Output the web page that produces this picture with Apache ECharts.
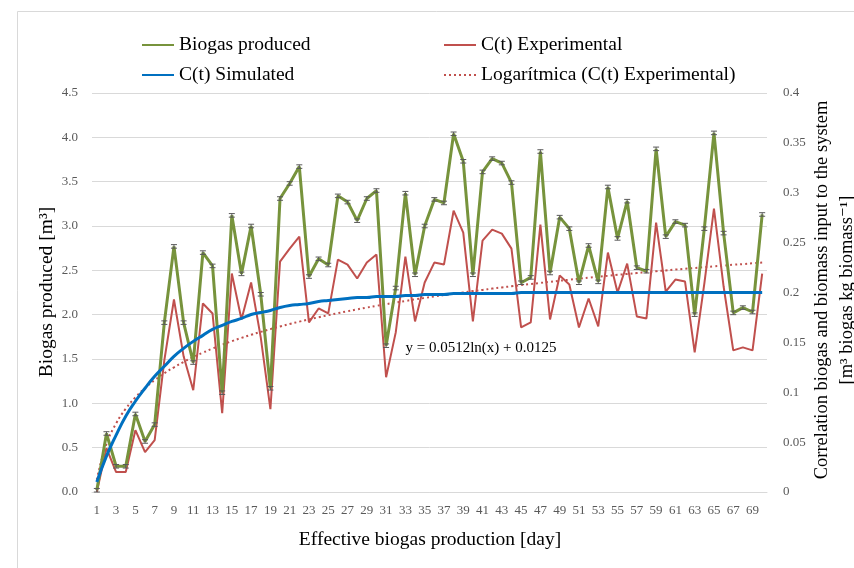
<!DOCTYPE html>
<html>
<head>
<meta charset="utf-8">
<script src="https://cdn.jsdelivr.net/npm/echarts@6/dist/echarts.min.js"></script>
<style>html,body{margin:0;padding:0;background:#fff}#c{width:854px;height:568px}</style>
</head>
<body>
<div id="c"></div>
<script>
const days = ['1','2','3','4','5','6','7','8','9','10','11','12','13','14','15','16','17','18','19','20',
'21','22','23','24','25','26','27','28','29','30','31','32','33','34','35','36','37','38','39','40',
'41','42','43','44','45','46','47','48','49','50','51','52','53','54','55','56','57','58','59','60',
'61','62','63','64','65','66','67','68','69','70'];

const biogasProduced = [0.02,0.66,0.29,0.29,0.88,0.57,0.76,1.91,2.77,1.91,
1.46,2.70,2.55,1.12,3.12,2.46,3.00,2.23,1.17,3.31,
3.48,3.67,2.43,2.63,2.56,3.34,3.27,3.06,3.31,3.40,
1.65,2.30,3.37,2.45,3.00,3.30,3.26,4.04,3.73,2.45,
3.61,3.76,3.71,3.49,2.36,2.42,3.84,2.47,3.10,2.97,
2.36,2.78,2.37,3.44,2.86,3.28,2.53,2.49,3.87,2.88,
3.05,3.01,2.00,2.97,4.05,2.92,2.02,2.08,2.03,3.13];

const biogasError = 0.02;

const ctExperimental = [0.000,0.044,0.020,0.020,0.062,0.040,0.052,0.132,0.193,0.136,
0.102,0.189,0.179,0.079,0.219,0.173,0.210,0.155,0.083,0.231,
0.244,0.256,0.170,0.184,0.179,0.233,0.228,0.214,0.230,0.238,
0.115,0.160,0.236,0.171,0.210,0.230,0.228,0.282,0.260,0.171,
0.252,0.263,0.259,0.244,0.165,0.170,0.268,0.173,0.217,0.208,
0.165,0.194,0.166,0.240,0.200,0.229,0.176,0.174,0.270,0.201,
0.213,0.211,0.140,0.209,0.284,0.206,0.142,0.145,0.142,0.219];

const ctSimulated = [0.010,0.036,0.057,0.076,0.091,0.104,0.116,0.126,0.136,0.144,
0.151,0.157,0.163,0.167,0.171,0.174,0.178,0.180,0.182,0.185,
0.187,0.188,0.189,0.191,0.192,0.193,0.194,0.195,0.195,0.196,
0.196,0.196,0.197,0.197,0.198,0.198,0.198,0.199,0.199,0.199,
0.199,0.199,0.199,0.199,0.200,0.200,0.200,0.200,0.200,0.200,
0.200,0.200,0.200,0.200,0.200,0.200,0.200,0.200,0.200,0.200,
0.200,0.200,0.200,0.200,0.200,0.200,0.200,0.200,0.200,0.200];

const logTrend = [0.0125,0.0480,0.0687,0.0835,0.0949,0.1042,0.1121,0.1190,0.1250,0.1304,
0.1353,0.1397,0.1438,0.1476,0.1512,0.1545,0.1576,0.1605,0.1633,0.1659,
0.1684,0.1708,0.1730,0.1752,0.1773,0.1793,0.1812,0.1831,0.1849,0.1866,
0.1883,0.1899,0.1915,0.1931,0.1945,0.1960,0.1974,0.1987,0.2001,0.2014,
0.2026,0.2039,0.2051,0.2062,0.2074,0.2085,0.2096,0.2107,0.2118,0.2128,
0.2138,0.2148,0.2158,0.2167,0.2177,0.2186,0.2195,0.2204,0.2213,0.2221,
0.2230,0.2238,0.2246,0.2254,0.2262,0.2270,0.2278,0.2285,0.2293,0.2300];

const leftTicks = {min:0, max:4.5, interval:0.5};
const rightTicks = {min:0, max:0.4, interval:0.05};

const FONT = "'Liberation Serif','DejaVu Serif',serif";
const chart = echarts.init(document.getElementById('c'), null, {renderer:'canvas'});

const legendText = {fontFamily:FONT, fontSize:19.5, color:'#000'};
const legendCommon = {orient:'vertical', top:30, itemWidth:32, itemHeight:12, itemGap:10,
  itemStyle:{opacity:0}, textStyle:legendText, selectedMode:false};

chart.setOption({
  animation:false,
  backgroundColor:'#fff',
  textStyle:{fontFamily:FONT},
  grid:{left:92, right:87, top:93, bottom:76, containLabel:false},
  legend:[
    Object.assign({left:136, data:['Biogas produced','C(t) Simulated']}, legendCommon),
    Object.assign({left:438, data:['C(t) Experimental','Logarítmica (C(t) Experimental)']}, legendCommon)
  ],
  xAxis:{
    type:'category', data:days, boundaryGap:true,
    axisLine:{lineStyle:{color:'#d9d9d9'}},
    axisTick:{show:false},
    axisLabel:{interval:1, color:'#595959', fontSize:13, margin:12, fontFamily:FONT},
    splitLine:{show:false}
  },
  yAxis:[
    {type:'value', min:leftTicks.min, max:leftTicks.max, interval:leftTicks.interval,
     axisLine:{show:false}, axisTick:{show:false},
     axisLabel:{color:'#595959', fontSize:13, margin:14, fontFamily:FONT, formatter:v=>v.toFixed(1)},
     splitLine:{lineStyle:{color:'#d9d9d9', width:1}}},
    {type:'value', min:rightTicks.min, max:rightTicks.max, interval:rightTicks.interval, position:'right',
     axisLine:{show:false}, axisTick:{show:false},
     axisLabel:{color:'#595959', fontSize:13, margin:16, fontFamily:FONT},
     splitLine:{show:false}}
  ],
  graphic:[
    {type:'rect', left:15, top:9, shape:{width:900, height:600}, style:{fill:'none', stroke:'#d9d9d9', lineWidth:1}, silent:true},
    {type:'text', x:430, y:540, style:{text:'Effective biogas production [day]', font:'19.5px '+FONT, fill:'#000', textAlign:'center', textVerticalAlign:'middle'}},
    {type:'text', x:47, y:292, rotation:Math.PI/2, style:{text:'Biogas produced [m³]', font:'19.5px '+FONT, fill:'#000', textAlign:'center', textVerticalAlign:'middle'}},
    {type:'text', x:822, y:290, rotation:Math.PI/2, style:{text:'Correlation biogas and biomass input to the system', font:'18.5px '+FONT, fill:'#000', textAlign:'center', textVerticalAlign:'middle'}},
    {type:'text', x:847, y:290, rotation:Math.PI/2, style:{text:'[m³ biogas kg biomass⁻¹]', font:'18.5px '+FONT, fill:'#000', textAlign:'center', textVerticalAlign:'middle'}},
    {type:'text', x:481, y:348, style:{text:'y = 0.0512ln(x) + 0.0125', font:'15px '+FONT, fill:'#000', textAlign:'center', textVerticalAlign:'middle'}}
  ],
  series:[
    {name:'Biogas produced', type:'line', yAxisIndex:0, data:biogasProduced, symbol:'none',
     lineStyle:{color:'#77933C', width:3}, itemStyle:{color:'#77933C'}, z:3},
    {name:'C(t) Experimental', type:'line', yAxisIndex:1, data:ctExperimental, symbol:'none',
     lineStyle:{color:'#C0504D', width:2}, itemStyle:{color:'#C0504D'}, z:2},
    {name:'C(t) Simulated', type:'line', yAxisIndex:1, data:ctSimulated, symbol:'none', smooth:true,
     lineStyle:{color:'#0070C0', width:3}, itemStyle:{color:'#0070C0'}, z:4},
    {name:'Logarítmica (C(t) Experimental)', type:'line', yAxisIndex:1, data:logTrend, symbol:'none', smooth:true,
     lineStyle:{color:'#C0504D', width:2, type:[2,3]}, itemStyle:{color:'#C0504D'}, z:2},
    {name:'errorbars', type:'custom', yAxisIndex:0, z:5,
     data:biogasProduced.map((v,i)=>[i, v-biogasError, v+biogasError]),
     encode:{x:0, y:[1,2]},
     renderItem:(params, api)=>{
       const lo = api.coord([api.value(0), api.value(1)]);
       const hi = api.coord([api.value(0), api.value(2)]);
       const w = 3;
       const st = {stroke:'#595959', lineWidth:1};
       return {type:'group', children:[
         {type:'line', shape:{x1:lo[0], y1:lo[1], x2:hi[0], y2:hi[1]}, style:st},
         {type:'line', shape:{x1:lo[0]-w, y1:lo[1], x2:lo[0]+w, y2:lo[1]}, style:st},
         {type:'line', shape:{x1:hi[0]-w, y1:hi[1], x2:hi[0]+w, y2:hi[1]}, style:st}
       ]};
     }}
  ]
});
</script>
</body>
</html>
